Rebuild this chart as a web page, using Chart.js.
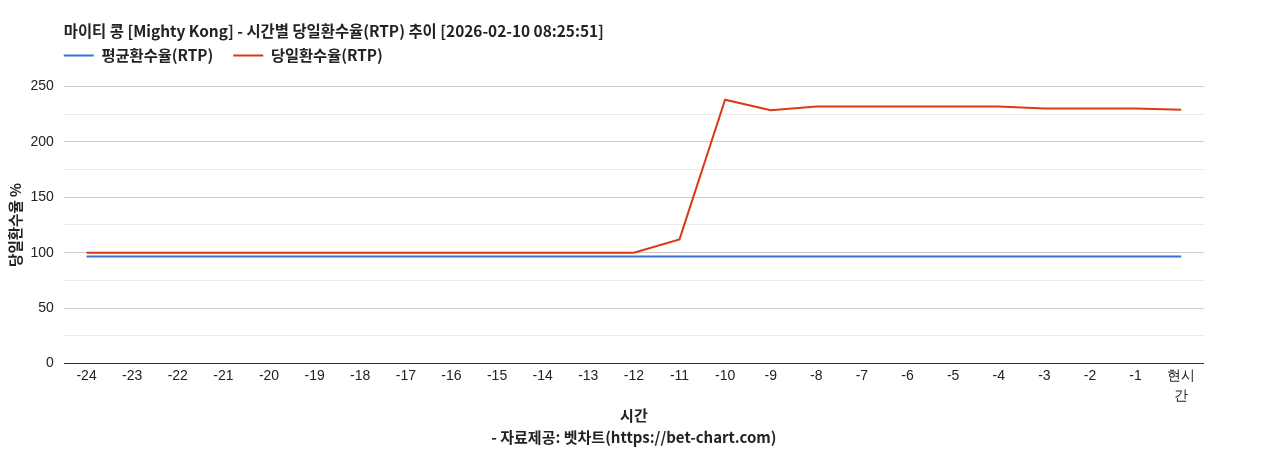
<!DOCTYPE html>
<html>
<head>
<meta charset="utf-8">
<script src="https://cdn.jsdelivr.net/npm/chart.js@4.4.1/dist/chart.umd.min.js"></script>
<style>
  html, body { margin: 0; padding: 0; background: #fff; }
  #wrap { width: 1268px; height: 450px; }
</style>
</head>
<body>
<div id="wrap"><canvas id="rtpChart"></canvas></div>
<script>
const hours = ["-24", "-23", "-22", "-21", "-20", "-19", "-18", "-17", "-16", "-15", "-14", "-13",
    "-12", "-11", "-10", "-9", "-8", "-7", "-6", "-5", "-4", "-3", "-2", "-1", ["현시", "간"]];
const avgRtp = [96.5, 96.5, 96.5, 96.5, 96.5, 96.5, 96.5, 96.5, 96.5, 96.5, 96.5, 96.5,
    96.5, 96.5, 96.5, 96.5, 96.5, 96.5, 96.5, 96.5, 96.5, 96.5, 96.5, 96.5, 96.5];
const dayRtp = [100, 100, 100, 100, 100, 100, 100, 100, 100, 100, 100, 100,
    100, 112, 238, 228.5, 232, 232, 232, 232, 232, 230, 230, 230, 229];

const korFont = "'Noto Sans CJK KR', 'Noto Sans', sans-serif";
const numFont = "'Liberation Sans', Arial, sans-serif";

// legend: wide gap between items, but a fixed block height and a raised row
const LEGEND_HEIGHT = 46.5;
const LEGEND_RAISE = 12;

const legendBox = {
    id: 'legendBox',
    beforeInit(chart) {
        const legend = chart.legend;
        if (!legend) return;
        const origFit = legend.fit;
        legend.fit = function () {
            origFit.call(this);
            this.height = LEGEND_HEIGHT;
        };
    },
    // title and legend start at the plot's left edge, like the original
    afterLayout(chart) {
        const left = chart.chartArea.left;
        if (chart.titleBlock) chart.titleBlock.left = left;
        if (chart.legend) {
            chart.legend.left = left - chart.legend.options.labels.padding;
            chart.legend.top -= LEGEND_RAISE;
        }
    }
};

new Chart(document.getElementById('rtpChart'), {
    type: 'line',
    data: {
        labels: hours,
        datasets: [{
            label: '평균환수율(RTP)',
            data: avgRtp,
            borderColor: '#3d6fd6',
            backgroundColor: '#3d6fd6',
            borderWidth: 2,
            pointRadius: 0,
            tension: 0
        }, {
            label: '당일환수율(RTP)',
            data: dayRtp,
            borderColor: '#dc3912',
            backgroundColor: '#dc3912',
            borderWidth: 2,
            pointRadius: 0,
            tension: 0
        }]
    },
    options: {
        responsive: true,
        maintainAspectRatio: false,
        animation: false,
        layout: { padding: { left: 3, right: 64, top: 0, bottom: 2 } },
        plugins: {
            title: {
                display: true,
                text: '마이티 콩 [Mighty Kong] - 시간별 당일환수율(RTP) 추이 [2026-02-10 08:25:51]',
                align: 'start',
                color: '#222',
                font: { family: korFont, size: 15.4, weight: 'bold', lineHeight: 1.1 },
                padding: { top: 23, bottom: 0 }
            },
            legend: {
                position: 'top',
                align: 'start',
                labels: {
                    usePointStyle: true,
                    pointStyle: 'line',
                    pointStyleWidth: 30,
                    boxHeight: 15,
                    padding: 20,
                    color: '#222',
                    font: { family: korFont, size: 15.3, weight: 'bold' }
                }
            },
            tooltip: { enabled: false }
        },
        scales: {
            x: {
                offset: true,
                grid: { display: false, drawTicks: false },
                border: { display: false },
                ticks: {
                    autoSkip: false,
                    maxRotation: 0,
                    padding: 3,
                    color: '#222',
                    font: { family: numFont, size: 14, lineHeight: 1.43 }
                },
                title: {
                    display: true,
                    text: ['시간', '- 자료제공: 벳차트(https://bet-chart.com)'],
                    color: '#222',
                    font: { family: korFont, size: 15, weight: 'bold', lineHeight: 1.45 },
                    padding: { top: -5, bottom: 0 }
                }
            },
            y: {
                min: 0,
                max: 250,
                grid: {
                    drawTicks: false,
                    color: ctx => ctx.tick.value === 0 ? '#333' : (ctx.tick.value % 50 === 0 ? '#cccccc' : '#ebebeb'),
                    lineWidth: 1
                },
                border: { display: false },
                ticks: {
                    stepSize: 25,
                    padding: 10,
                    color: '#222',
                    font: { family: numFont, size: 14 },
                    callback: v => (v % 50 === 0 ? v : '')
                },
                title: {
                    display: true,
                    text: '당일환수율 %',
                    color: '#222',
                    font: { family: korFont, size: 14.5, weight: 'bold' },
                    padding: { top: 4, bottom: -4 }
                }
            }
        }
    },
    plugins: [legendBox]
});
</script>
</body>
</html>
